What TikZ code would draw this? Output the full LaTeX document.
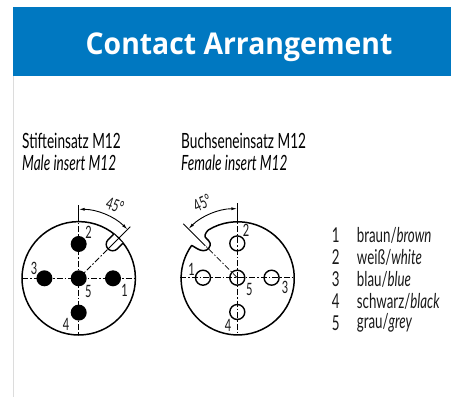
\documentclass[tikz,border=0pt]{standalone}
\usepackage{fontspec}
\usetikzlibrary{arrows.meta,calc}
\setmainfont{Open Sans}
\newfontfamily\ttl[FakeStretch=0.945]{Open Sans}
\newfontfamily\fut[FakeStretch=0.65]{Lato}
\definecolor{band}{HTML}{0078C1}
\definecolor{edge}{HTML}{DCDCDC}
\tikzset{
  x=1pt,y=-1pt,
  headtxt/.style={font=\fut\fontsize{21}{22}\selectfont,anchor=west,inner sep=0pt,text=black},
  listtxt/.style={font=\fut\fontsize{20.5}{22}\selectfont,anchor=west,inner sep=0pt,text=black!90},
  digit/.style={font=\fut\fontsize{17}{18}\selectfont,inner sep=0pt,text=black!90},
  shell/.style={line width=1.5pt,draw=black},
  cl/.style={line width=0.8pt,draw=black,dash pattern=on 6pt off 2pt on 1.5pt off 2pt},
  thin1/.style={line width=0.9pt,draw=black},
  pinfull/.style={circle,fill=black,minimum size=16pt,inner sep=0pt},
  pinhole/.style={circle,draw=black,line width=1.4pt,fill=none,minimum size=15pt,inner sep=0pt},
  dim/.style={line width=0.9pt,draw=black,{Latex[length=6pt,width=3pt]}-{Latex[length=6pt,width=3pt]}},
}
\begin{document}
\begin{tikzpicture}
\useasboundingbox (0,0) rectangle (451,397);
\fill[white] (0,0) rectangle (451,397);
\fill[edge] (13,76) rectangle (14,397);
\fill[band] (13,7) rectangle (451,76);
\node[font=\ttl\bfseries\fontsize{30}{31}\selectfont,text=white,inner sep=0pt] (title) at (239,47) {Contact Arrangement};

\node[headtxt] (h1) at (22,141) {Stifteinsatz M12};
\node[headtxt] (h2) at (22,163) {\itshape Male insert M12};
\node[headtxt] (h3) at (181,141) {Buchseneinsatz M12};
\node[headtxt] (h4) at (181,163) {\itshape Female insert M12};

% male insert
\coordinate (mc) at (78.7,278.3);
\draw[shell] (mc) circle (56.7);
\draw[cl] ($(mc)+(-56.7,0)$) -- ($(mc)+(56.7,0)$);
\draw[cl] (mc) -- ($(mc)+(0,-56.7)$);
\draw[cl] (mc) -- ($(mc)+(0,56.7)$);
\draw[thin1] ($(mc)+(0,-56.7)$) -- ($(mc)+(0,-73)$);
\begin{scope}[shift={(mc)}]
\draw[line width=1.4pt,fill=white] (35,-44.2) -- (29.4,-38.6)
  arc[start angle=225,end angle=45,radius=6.5] -- (44.2,-35);
\draw[cl] (0,0) -- (29,-29);
\draw[thin1] (29,-29) -- (51.6,-51.6);
\draw[dim] (0,-69) arc[start angle=-90,end angle=-45,radius=69];
\end{scope}
\node[pinfull] (m1) at ($(mc)+(34.3,0)$) {};
\node[pinfull] (m2) at ($(mc)+(0,-34.3)$) {};
\node[pinfull] (m3) at ($(mc)+(-34.3,0)$) {};
\node[pinfull] (m4) at ($(mc)+(0,34.3)$) {};
\node[pinfull] (m5) at (mc) {};
\node[digit] (ml1) at (124.7,290.7) {1};
\node[digit] (ml2) at (88.7,232.3) {2};
\node[digit] (ml3) at (34,268) {3};
\node[digit] (ml4) at (66,324.7) {4};
\node[digit] (ml5) at (88.3,291.7) {5};
\node[digit,rotate=-18] (ma) at (115,205) {45°};

% female insert
\coordinate (fc) at (237.3,277.7);
\draw[shell,line join=round] (208.3,230)
  arc[start angle=-121.3,end angle=215.6,radius=56.6]
  .. controls (195,247) and (199,250.7) .. (203.5,250.7)
  .. controls (208,250.7) and (211,246.5) .. (210,243)
  .. controls (209,239.5) and (204,238) .. (205,235)
  .. controls (205.5,233) and (207,231.5) .. (208.3,230);
\draw[cl] ($(fc)+(-57,0)$) -- ($(fc)+(57,0)$);
\draw[cl] (fc) -- ($(fc)+(0,57)$);
\draw[cl] (fc) -- ($(fc)+(0,-57)$);
\draw[thin1] ($(fc)+(0,-57)$) -- ($(fc)+(0,-75)$);
\draw[cl] (fc) -- ($(fc)+(-32,-32)$);
\begin{scope}[shift={(fc)}]
\draw[thin1] (-32,-32) -- (-54,-54);
\draw[dim] (0,-69) arc[start angle=-90,end angle=-135,radius=69];
\end{scope}
\node[pinhole] (f1) at ($(fc)+(-34.3,0)$) {};
\node[pinhole] (f2) at ($(fc)+(0,-34.3)$) {};
\node[pinhole] (f3) at ($(fc)+(34.3,0)$) {};
\node[pinhole] (f4) at ($(fc)+(0,34.3)$) {};
\node[pinhole] (f5) at (fc) {};
\node[digit] (fl1) at (191.7,269) {1};
\node[digit] (fl2) at (246,230.7) {2};
\node[digit] (fl3) at (285,287.3) {3};
\node[digit] (fl4) at (228,325.7) {4};
\node[digit] (fl5) at (249.3,289.3) {5};
\node[digit,rotate=25] (fa) at (202.3,203) {45°};

% legend
\foreach \n/\y/\a/\b in {1/235/braun/brown,2/257/weiß/white,3/279/blau/blue,4/301/schwarz/black,5/323/grau/grey}{
  \node[listtxt,anchor=center] (n\n) at (335.7,\y) {\n};
  \node[listtxt] (t\n) at (356.7,\y) {\a/\textit{\b}};
}
\end{tikzpicture}
\end{document}
